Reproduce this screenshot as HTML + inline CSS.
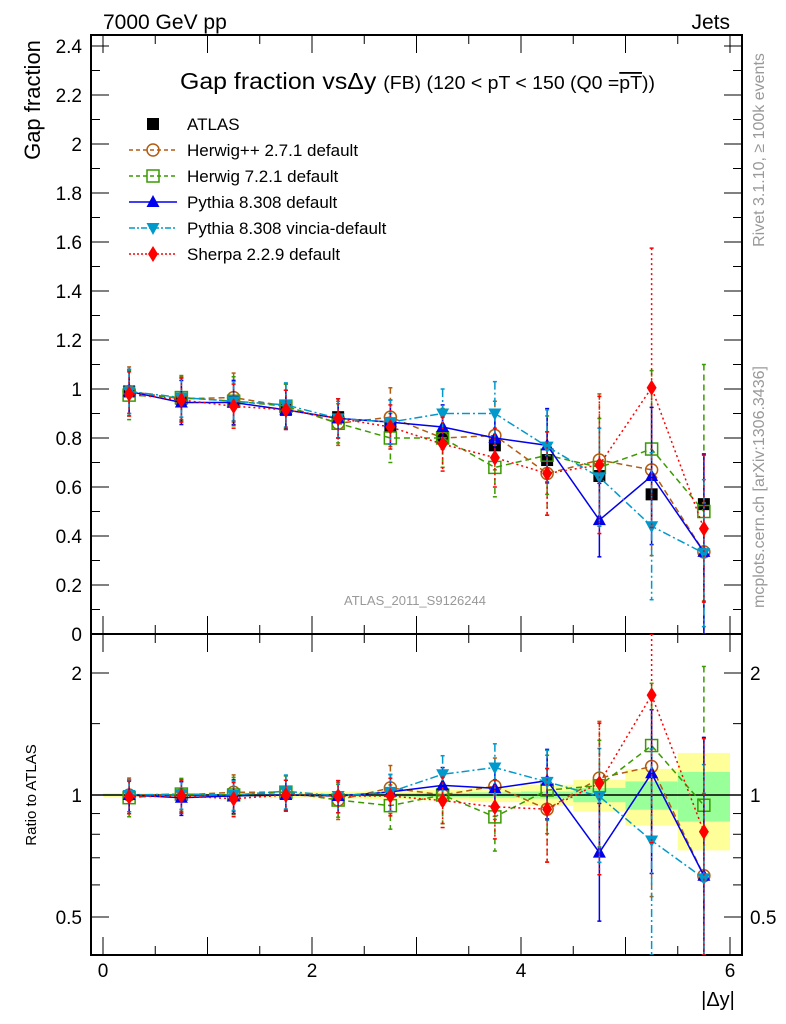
<!DOCTYPE html>
<html><head><meta charset="utf-8"><style>
html,body{margin:0;padding:0;background:#fff;width:786px;height:1024px;overflow:hidden;}
svg{display:block;font-family:"Liberation Sans",sans-serif;}
</style></head><body>
<svg id="c" width="786" height="1024" xmlns="http://www.w3.org/2000/svg">
<text x="103" y="29" font-size="21">7000 GeV pp</text>
<text x="730" y="29" font-size="21" text-anchor="end">Jets</text>
<text transform="translate(40,100) rotate(-90)" font-size="22" text-anchor="middle">Gap fraction</text>
<text transform="translate(36,795) rotate(-90)" font-size="15" text-anchor="middle">Ratio to ATLAS</text>
<text transform="translate(764,150) rotate(-90)" font-size="16" fill="#999" text-anchor="middle">Rivet 3.1.10, ≥ 100k events</text>
<text transform="translate(764,487) rotate(-90)" font-size="16" fill="#999" text-anchor="middle">mcplots.cern.ch [arXiv:1306.3436]</text>
<text x="415" y="605" font-size="13" fill="#999" text-anchor="middle">ATLAS_2011_S9126244</text>
<text x="180" y="89" font-size="23" textLength="475" lengthAdjust="spacingAndGlyphs">Gap fraction vsΔy <tspan font-size="18">(FB) (120 &lt; pT &lt; 150 (Q0 =<tspan text-decoration="overline">pT</tspan>))</tspan></text>
<text x="718" y="1006" font-size="20" text-anchor="middle">|Δy|</text>
<g id="g"></g>
</svg>
<script>
const xs=[0.25,0.75,1.25,1.75,2.25,2.75,3.25,3.75,4.25,4.75,5.25,5.75];
const atlas=[0.99,0.96,0.95,0.915,0.885,0.85,0.80,0.77,0.71,0.645,0.57,0.53];
const atlasStat=[0.005,0.005,0.005,0.006,0.008,0.01,0.012,0.015,0.02,0.04,0.08,0.14];
const atlasTot=[0.012,0.012,0.014,0.016,0.02,0.025,0.03,0.04,0.06,0.09,0.16,0.27];
const herwigpp=[0.99,0.96,0.965,0.93,0.86,0.885,0.80,0.81,0.655,0.71,0.67,0.335];
const herwigppErr=[0.1,0.09,0.1,0.09,0.09,0.12,0.12,0.14,0.17,0.27,0.35,0.2];
const herwig7=[0.975,0.965,0.95,0.93,0.86,0.80,0.80,0.68,0.73,0.68,0.755,0.50];
const herwig7Err=[0.1,0.09,0.1,0.09,0.08,0.1,0.12,0.12,0.16,0.2,0.32,0.6];
const pythia=[0.99,0.945,0.945,0.915,0.88,0.865,0.845,0.80,0.77,0.465,0.645,0.335];
const pythiaErr=[0.09,0.09,0.09,0.08,0.08,0.09,0.09,0.1,0.15,0.15,0.28,0.4];
const vincia=[0.99,0.965,0.95,0.935,0.88,0.865,0.90,0.90,0.765,0.64,0.44,0.33];
const vinciaErr=[0.09,0.08,0.08,0.09,0.08,0.09,0.1,0.13,0.15,0.2,0.3,0.3];
const sherpa=[0.98,0.955,0.93,0.915,0.88,0.845,0.775,0.72,0.655,0.69,1.005,0.43];
const sherpaErr=[0.09,0.09,0.09,0.08,0.08,0.09,0.11,0.12,0.17,0.28,0.57,0.3];
const yTicks=[0,0.2,0.4,0.6,0.8,1,1.2,1.4,1.6,1.8,2,2.2,2.4];
const rTicks=[0.5,1,2];
const xTicks=[0,2,4,6];

const NS="http://www.w3.org/2000/svg";
const G=document.getElementById('g');
const L=91,R=742,T=35,M=634,B=955;
const X=v=>103+v*104.5;
const Y=v=>634-v*245;
const RY=v=>795-Math.log2(v)*122;
const clamp=(v,a,b)=>Math.max(a,Math.min(b,v));
function mk(t,a,p){const e=document.createElementNS(NS,t);for(const k in a)e.setAttribute(k,a[k]);(p||G).appendChild(e);return e;}
const clipU=mk('clipPath',{id:'cu'});mk('rect',{x:L,y:T,width:R-L,height:M-T},clipU);
const clipR=mk('clipPath',{id:'cr'});mk('rect',{x:L,y:M,width:R-L,height:B-M},clipR);

const bandG=mk('g',{'clip-path':'url(#cr)'});


xs.forEach((x,i)=>{
 const y1=mk('rect',{x:X(x-0.25),width:X(x+0.25)-X(x-0.25),y:RY(1+atlasTot[i]),height:RY(1-atlasTot[i])-RY(1+atlasTot[i]),fill:'#ffff99'},bandG);
 
 
 const g1=mk('rect',{x:X(x-0.25),width:X(x+0.25)-X(x-0.25),y:RY(1+atlasStat[i]),height:RY(1-atlasStat[i])-RY(1+atlasStat[i]),fill:'#99ff99'},bandG);
 
 
});
mk('line',{x1:L,x2:R,y1:RY(1),y2:RY(1),stroke:'#000','stroke-width':1.5});

function frame(top,bot){mk('rect',{x:L,y:top,width:R-L,height:bot-top,fill:'none',stroke:'#000','stroke-width':2});}
frame(T,M);frame(M,B);
for(let v=0;v<=2.45;v+=0.1){const y=Y(v);const big=Math.abs(v*5-Math.round(v*5))<1e-6;const l=big?18:9;
 mk('line',{x1:L,x2:L+l,y1:y,y2:y,stroke:'#000'});mk('line',{x1:R-l,x2:R,y1:y,y2:y,stroke:'#000'});}
yTicks.forEach(v=>{const t=mk('text',{x:82,y:Y(v)+7,'font-size':19,'text-anchor':'end'});t.textContent=(v===0?'0':String(v));
 
 });
[0.4,0.5,0.6,0.7,0.8,0.9,1,1.5,2,2.5].forEach(v=>{const y=RY(v);if(y<M||y>B)return;const big=[0.5,1,2].includes(v);const l=big?18:9;
 mk('line',{x1:L,x2:L+l,y1:y,y2:y,stroke:'#000'});mk('line',{x1:R-l,x2:R,y1:y,y2:y,stroke:'#000'});});
rTicks.forEach(v=>{[[82,'end'],[750,'start']].forEach(([x,a])=>{const t=mk('text',{x:x,y:RY(v)+7,'font-size':19,'text-anchor':a});t.textContent=String(v);
 
 });});
for(let v=-0.1;v<=6.1;v+=0.5){const x=X(Math.round(v*2)/2);if(x<L||x>R)continue;const big=Math.abs(Math.round(v*2)/2%1)<1e-6;const l=big?18:9;
 [[T,1],[M,-1],[M,1],[B,-1]].forEach(([y0,d])=>mk('line',{x1:x,x2:x,y1:y0,y2:y0+d*l,stroke:'#000'}));}
xTicks.forEach(v=>{const t=mk('text',{x:X(v),y:977,'font-size':19,'text-anchor':'middle'});t.textContent=String(v);
 
 });

function marker(p,type,x,y,c){
 if(type==='sq')return mk('rect',{x:x-6,y:y-6,width:12,height:12,fill:'#000'},p);
 if(type==='osq')return mk('rect',{x:x-6,y:y-6,width:12,height:12,fill:'none',stroke:c,'stroke-width':1.5},p);
 if(type==='oc')return mk('circle',{cx:x,cy:y,r:6,fill:'none',stroke:c,'stroke-width':1.5},p);
 if(type==='tu')return mk('path',{d:`M${x} ${y-7}L${x+6.5} ${y+5}L${x-6.5} ${y+5}Z`,fill:c},p);
 if(type==='td')return mk('path',{d:`M${x} ${y+7}L${x+6.5} ${y-5}L${x-6.5} ${y-5}Z`,fill:c},p);
 if(type==='di')return mk('path',{d:`M${x} ${y-8}L${x+5} ${y}L${x} ${y+8}L${x-5} ${y}Z`,fill:c},p);
}
const series=[
 {name:'herwigpp',v:herwigpp,e:herwigppErr,c:'#b35c10',d:'6,4',m:'oc'},
 {name:'herwig7',v:herwig7,e:herwig7Err,c:'#3a9a00',d:'6,4',m:'osq'},
 {name:'pythia',v:pythia,e:pythiaErr,c:'#0000ee',d:'',m:'tu'},
 {name:'vincia',v:vincia,e:vinciaErr,c:'#0099cc',d:'8,3,2,3',m:'td'},
 {name:'sherpa',v:sherpa,e:sherpaErr,c:'#ff0000',d:'2,3',m:'di'}];
const ag=mk('g',{'clip-path':'url(#cu)'});


xs.forEach((x,i)=>{marker(ag,'sq',X(x),Y(atlas[i]),'#000');});
series.forEach(s=>{
 ['u','r'].forEach(panel=>{
  const top=panel==='u'?T:M, bot=panel==='u'?M:B;
  const g=mk('g',{'clip-path':panel==='u'?'url(#cu)':'url(#cr)'});
  
  
  const f=panel==='u'?(i=>Y(s.v[i])):(i=>RY(s.v[i]/atlas[i]));
  const hi=panel==='u'?(i=>clamp(Y(s.v[i]+s.e[i]),top,bot)):(i=>clamp(RY((s.v[i]+s.e[i])/atlas[i]),top,bot));
  const lo=panel==='u'?(i=>clamp(Y(Math.max(s.v[i]-s.e[i],0.001)),top,bot)):(i=>clamp(RY(Math.max(s.v[i]-s.e[i],0.01)/atlas[i]),top,bot));
  const pts=xs.map((x,i)=>X(x)+','+f(i)).join(' ');
  mk('polyline',{points:pts,fill:'none',stroke:s.c,'stroke-width':1.5,'stroke-dasharray':s.d},g);
  xs.forEach((x,i)=>{
   mk('line',{x1:X(x),x2:X(x),y1:hi(i),y2:lo(i),stroke:s.c,'stroke-width':1.5,'stroke-dasharray':s.d},g);
   mk('line',{x1:X(x)-2,x2:X(x)+2,y1:hi(i),y2:hi(i),stroke:s.c,'stroke-width':1.5},g);
   mk('line',{x1:X(x)-2,x2:X(x)+2,y1:lo(i),y2:lo(i),stroke:s.c,'stroke-width':1.5},g);
   marker(g,s.m,X(x),f(i),s.c);
  });
 });
});
const legend=[['ATLAS','#000','','sq'],['Herwig++ 2.7.1 default','#b35c10','4,3','oc'],['Herwig 7.2.1 default','#3a9a00','4,3','osq'],
 ['Pythia 8.308 default','#0000ee','','tu'],['Pythia 8.308 vincia-default','#0099cc','6,2,2,2','td'],['Sherpa 2.2.9 default','#ff0000','2,2','di']];
legend.forEach((l,i)=>{const y=124+i*26;const g=mk('g',{});
 
 
 if(i>0)mk('line',{x1:129,x2:177,y1:y,y2:y,stroke:l[1],'stroke-width':1.5,'stroke-dasharray':l[2]},g);
 marker(g,l[3],153,y,l[1]);
 const t=mk('text',{x:187,y:y+6,'font-size':17},g);t.textContent=l[0];});
</script>
</body></html>
